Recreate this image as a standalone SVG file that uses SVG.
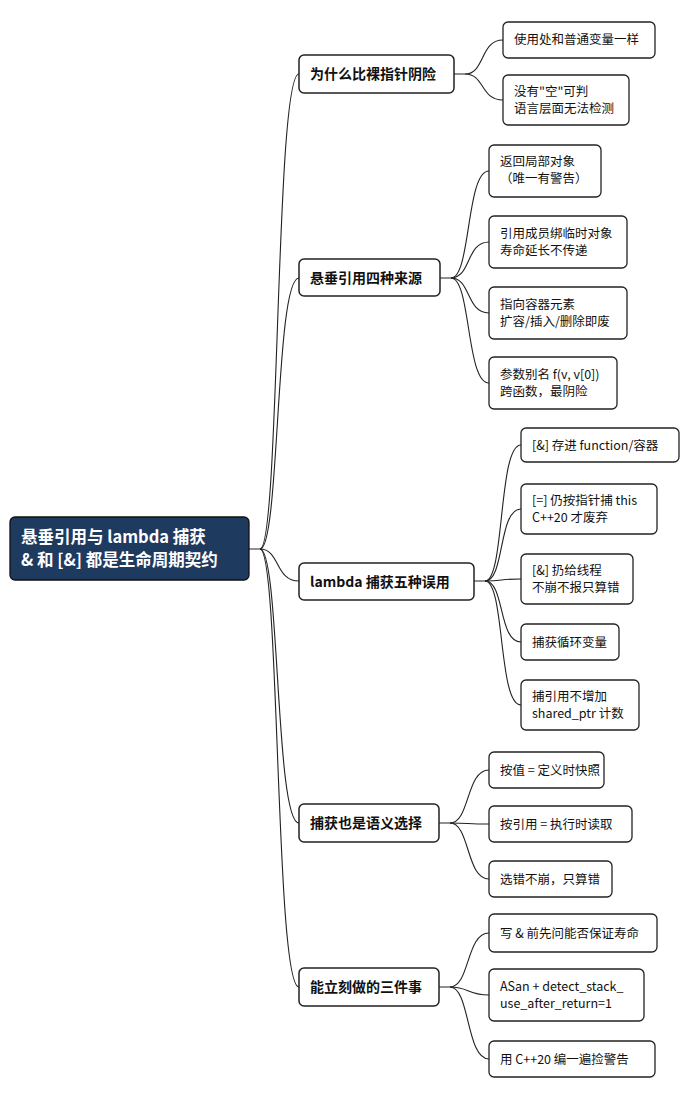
<svg xmlns="http://www.w3.org/2000/svg" width="698" height="1098" viewBox="0 0 698 1098">
<style>
.n rect{fill:#fff;stroke:#222;stroke-width:1.3}
.b rect{stroke-width:1.5}
text{font-family:"Noto Sans CJK SC","Noto Sans",sans-serif;font-size:12.5px;fill:#111}
.b text{font-size:14px;font-weight:bold}
.r rect{fill:#1f3a5f;stroke:#111;stroke-width:1.3}
.r text{fill:#fff;font-size:16.5px;font-weight:bold}
#c path{fill:none;stroke:#222;stroke-width:1.1}
</style>
<rect width="698" height="1098" fill="#fff"/>
<g id="c">
<path d="M249 549H260C280 549 275 74 299 74"/>
<path d="M260 549C280 549 275 278 299 278"/>
<path d="M260 549C280 549 275 581 299 581"/>
<path d="M260 549C280 549 275 823 299 823"/>
<path d="M260 549C280 549 275 987 299 987"/>
<path d="M454 74H465C485 74 480 40 503 40"/>
<path d="M465 74C485 74 480 100 503 100"/>
<path d="M440 278H451C471 278 466 171 489 171"/>
<path d="M451 278C471 278 466 242 489 242"/>
<path d="M451 278C471 278 466 313 489 313"/>
<path d="M451 278C471 278 466 383 489 383"/>
<path d="M474 581H485C505 581 498 445 521 445"/>
<path d="M485 581C505 581 498 509 521 509"/>
<path d="M485 581C505 581 498 579 521 579"/>
<path d="M485 581C505 581 498 642 521 642"/>
<path d="M485 581C505 581 498 705 521 705"/>
<path d="M439 823H450C470 823 466 770 489 770"/>
<path d="M450 823C470 823 466 824 489 824"/>
<path d="M450 823C470 823 466 879 489 879"/>
<path d="M439 987H450C470 987 466 933 489 933"/>
<path d="M450 987C470 987 466 995 489 995"/>
<path d="M450 987C470 987 466 1059 489 1059"/>
</g>
<g id="root" class="r"><rect x="10" y="517" width="239" height="63" rx="5"/><text x="21" y="543">悬垂引用与 lambda 捕获</text><text x="21" y="566">&amp; 和 [&amp;] 都是生命周期契约</text></g>
<g id="b1" class="n b"><rect x="299" y="55" width="155" height="38" rx="5"/><text x="310" y="79">为什么比裸指针阴险</text></g>
<g id="b2" class="n b"><rect x="299" y="259" width="141" height="37" rx="5"/><text x="310" y="283">悬垂引用四种来源</text></g>
<g id="b3" class="n b"><rect x="299" y="563" width="175" height="37" rx="5"/><text x="310" y="587">lambda 捕获五种误用</text></g>
<g id="b4" class="n b"><rect x="299" y="804" width="140" height="38" rx="5"/><text x="310" y="828">捕获也是语义选择</text></g>
<g id="b5" class="n b"><rect x="299" y="968" width="140" height="38" rx="5"/><text x="310" y="992">能立刻做的三件事</text></g>
<g id="l11" class="n"><rect x="503" y="22" width="152" height="36" rx="5"/><text x="514" y="44">使用处和普通变量一样</text></g>
<g id="l12" class="n"><rect x="503" y="75" width="126" height="50" rx="5"/><text x="514" y="96">没有"空"可判</text><text x="514" y="113">语言层面无法检测</text></g>
<g id="l21" class="n"><rect x="489" y="145" width="112" height="52" rx="5"/><text x="500" y="166">返回局部对象</text><text x="500" y="183">（唯一有警告）</text></g>
<g id="l22" class="n"><rect x="489" y="216" width="138" height="52" rx="5"/><text x="500" y="238">引用成员绑临时对象</text><text x="500" y="255">寿命延长不传递</text></g>
<g id="l23" class="n"><rect x="489" y="287" width="138" height="52" rx="5"/><text x="500" y="309">指向容器元素</text><text x="500" y="326">扩容/插入/删除即废</text></g>
<g id="l24" class="n"><rect x="489" y="357" width="128" height="52" rx="5"/><text x="500" y="379">参数别名 f(v, v[0])</text><text x="500" y="396">跨函数，最阴险</text></g>
<g id="l31" class="n"><rect x="521" y="428" width="158" height="34" rx="5"/><text x="532" y="450">[&amp;] 存进 function/容器</text></g>
<g id="l32" class="n"><rect x="521" y="484" width="136" height="50" rx="5"/><text x="532" y="505">[=] 仍按指针捕 this</text><text x="532" y="522">C++20 才废弃</text></g>
<g id="l33" class="n"><rect x="521" y="554" width="112" height="50" rx="5"/><text x="532" y="575">[&amp;] 扔给线程</text><text x="532" y="592">不崩不报只算错</text></g>
<g id="l34" class="n"><rect x="521" y="624" width="98" height="36" rx="5"/><text x="532" y="647">捕获循环变量</text></g>
<g id="l35" class="n"><rect x="521" y="680" width="118" height="50" rx="5"/><text x="532" y="701">捕引用不增加</text><text x="532" y="718">shared_ptr 计数</text></g>
<g id="l41" class="n"><rect x="489" y="752" width="115" height="36" rx="5"/><text x="500" y="775">按值 = 定义时快照</text></g>
<g id="l42" class="n"><rect x="489" y="806" width="143" height="36" rx="5"/><text x="500" y="829">按引用 = 执行时读取</text></g>
<g id="l43" class="n"><rect x="489" y="861" width="123" height="36" rx="5"/><text x="500" y="884">选错不崩，只算错</text></g>
<g id="l51" class="n"><rect x="489" y="914" width="168" height="38" rx="5"/><text x="500" y="938">写 &amp; 前先问能否保证寿命</text></g>
<g id="l52" class="n"><rect x="489" y="969" width="155" height="52" rx="5"/><text x="500" y="991">ASan + detect_stack_</text><text x="500" y="1008">use_after_return=1</text></g>
<g id="l53" class="n"><rect x="489" y="1041" width="166" height="36" rx="5"/><text x="500" y="1064">用 C++20 编一遍捡警告</text></g>
</svg>
